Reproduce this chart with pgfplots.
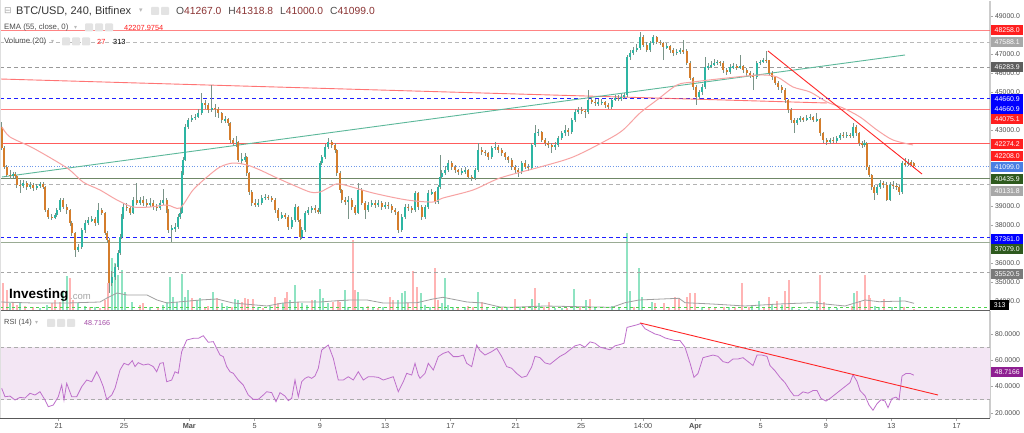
\documentclass[border=0pt]{standalone}
\usepackage{pgfplots}
\pgfplotsset{compat=1.18}
\usepackage{pgfplotstable}
\usepackage{fontspec}
\setmainfont{Liberation Sans}
\newfontfamily\djv{DejaVu Sans}

\definecolor{upbody}{HTML}{2DB5A3}
\definecolor{dnbody}{HTML}{D47D2C}
\definecolor{wickc}{HTML}{7A9488}
\definecolor{volup}{HTML}{8FE3C2}
\definecolor{voldn}{HTML}{FFB4B4}
\definecolor{lvlred}{HTML}{FF5C5C}
\definecolor{lvlblue}{HTML}{1F1FFF}
\definecolor{lvlgreen}{HTML}{6F8766}
\definecolor{emac}{HTML}{F7A3A3}
\definecolor{trgreen}{HTML}{5CB89A}
\definecolor{rsic}{HTML}{BE6FCB}
\definecolor{rsifill}{HTML}{F3E6F4}
\definecolor{axtext}{HTML}{4D4D4D}
\definecolor{valred}{HTML}{8B3333}
\definecolor{tagblue}{HTML}{0000FF}
\definecolor{taglblue}{HTML}{4A7FE3}
\definecolor{taggreen}{HTML}{2E5A1E}
\definecolor{taggray}{HTML}{A8A8A8}
\definecolor{tagdgray}{HTML}{5E5E5E}
\definecolor{tagmgray}{HTML}{7A7A7A}
\definecolor{tagred}{HTML}{FF1F1F}
\definecolor{tagpurple}{HTML}{8E1F91}

\pgfplotstableread{
x o h l c
1.7 43153 43416 41943 42048
4.0 42048 42150 40940 41048
6.7 41048 41150 40520 40627
10.0 40627 40900 40420 40574
13.3 40574 40800 40450 40679
15.0 40679 40760 40480 40574
16.7 40574 40650 39950 40100
20.0 40100 40350 39700 40048
23.3 40048 40350 39950 40206
26.7 40206 40300 39850 39995
30.0 39995 40250 39900 40100
33.3 40100 40200 39800 39943
36.7 39943 40150 39850 40048
40.0 40048 40250 39950 40153
43.3 40153 40250 39900 39995
45.0 39995 40050 38700 38785
48.3 38785 38900 38300 38416
51.7 38416 38600 38250 38364
55.0 38364 38650 38300 38521
56.7 38521 38900 38400 38785
60.0 38785 39400 38700 39311
63.3 39311 39400 38850 38943
66.7 38943 39100 38600 38785
70.0 38785 38850 37950 38101
71.7 38101 38200 37400 37574
75.0 37574 37650 36311 36679
78.3 36679 37000 36550 36837
81.7 36837 37850 36750 37732
85.0 37732 38250 37600 38101
88.3 38101 38400 38000 38258
91.7 38258 38450 38150 38300
95.0 38300 38400 37950 38101
98.3 38101 39150 38000 38785
101.7 38785 38900 38500 38627
105.0 38627 38700 37450 37574
107.3 37574 37700 37050 37206
109.3 37206 37300 34416 34943
111.7 34943 35600 34800 35259
115.0 35259 35950 35100 35785
118.3 35785 36700 35650 36521
120.0 36521 37500 36400 37364
121.7 37364 38550 37250 38416
123.3 38416 39150 38300 38943
126.7 38943 39150 38750 38900
130.0 38900 39000 38500 38627
133.3 38627 39450 38550 39311
136.7 39311 40200 39050 39153
140.0 39153 39450 39050 39311
143.3 39311 39500 39000 39153
146.7 39153 39350 38950 39048
150.0 39048 39400 38950 39153
153.3 39153 39300 38800 38943
156.7 38943 39100 38750 38890
160.0 38890 39300 38800 39153
163.3 39153 39900 39050 39311
166.7 39311 39400 38650 38785
168.3 38785 38850 37600 37732
171.7 37732 38000 37100 37800
175.0 37800 38100 37650 37890
178.3 37890 38550 37800 38416
180.0 38416 38900 38300 38627
181.7 38627 40850 38550 40732
183.3 40732 41550 40650 41416
185.0 41416 43300 41350 43153
188.3 43153 43650 43050 43521
191.7 43521 43800 43400 43627
195.0 43627 43850 43500 43679
198.3 43679 44100 43600 43890
201.7 43890 44942 43800 44416
205.0 44416 44550 44100 44311
208.3 44311 44400 43900 44048
211.7 44048 45363 43950 44153
215.0 44153 44350 43700 44100
218.3 44100 44200 43600 43890
221.7 43890 43950 43350 43521
225.0 43521 43750 43350 43560
228.3 43560 43650 43200 43364
230.0 43364 43400 42300 42469
233.3 42469 42600 42150 42311
236.7 42311 42700 42100 42350
238.3 42350 42400 41300 41416
241.7 41416 41800 41200 41450
245.0 41450 41800 41300 41574
246.7 41574 41650 40600 40732
249.3 40732 40800 39600 39732
251.7 39732 39850 39000 39153
255.0 39153 39350 38950 39100
258.3 39100 39350 38950 39153
261.7 39153 39600 39050 39416
265.0 39416 39650 39300 39469
268.3 39469 39600 39300 39416
271.7 39416 39500 39200 39311
275.0 39311 39400 38650 38785
278.3 38785 38900 38200 38364
281.7 38364 38700 38300 38521
285.0 38521 38650 38300 38416
288.3 38416 38500 37750 37890
291.7 37890 38400 37800 38258
295.0 38258 39100 38150 38943
298.3 38943 39000 38150 38258
300.0 38258 38300 37200 37364
301.7 37364 37900 37250 37732
305.0 37732 38750 37650 38627
308.3 38627 38950 38500 38785
311.7 38785 39000 38650 38850
315.0 38850 39050 38650 38785
318.3 38785 38900 38550 38679
320.0 38679 41350 38600 41258
321.7 41258 41700 41150 41574
325.0 41574 42250 41450 42100
328.3 42100 42550 42000 42364
331.7 42364 42450 42050 42206
335.0 42206 42300 41800 41943
336.7 41943 42000 40600 40732
340.0 40732 40850 39700 39837
341.7 39837 39900 39150 39311
345.0 39311 39450 39050 39206
348.3 39206 39500 38300 39311
351.7 39311 39400 38800 38943
355.0 38943 39050 38500 38627
358.3 38627 40200 38550 39837
361.7 39837 39950 39050 39153
365.0 39153 39250 38300 38785
368.3 38785 39200 38700 39048
371.7 39048 39300 38950 39153
375.0 39153 39300 38900 39048
378.3 39048 39300 38950 39153
381.7 39153 39250 38800 38943
385.0 38943 39200 38850 39048
388.3 39048 39200 38850 39000
391.7 39000 39100 38650 38785
395.0 38785 38900 38500 38679
398.3 38679 38750 37574 37732
401.7 37732 38550 37650 38416
405.0 38416 39100 38300 38943
408.3 38943 39100 38750 38900
411.7 38900 39000 38650 38785
415.0 38785 39800 38700 39679
418.3 39679 39750 38800 38943
421.7 38943 39050 38250 38416
425.0 38416 39050 38300 38943
428.3 38943 39850 38850 39679
431.7 39679 39900 39550 39732
435.0 39732 39800 39100 39206
438.3 39206 40100 39100 39995
440.0 39995 41679 39900 40522
441.7 40522 40900 40400 40732
445.0 40732 41100 40650 40890
448.3 40890 41400 40800 41258
451.7 41258 41350 40900 41048
455.0 41048 41150 40750 40890
458.3 40890 40950 40650 40785
461.7 40785 41000 40650 40820
465.0 40820 41050 40700 40890
468.3 40890 40950 40400 40522
471.7 40522 40650 40300 40469
475.0 40469 41000 40350 40890
478.3 40890 42311 40800 41943
481.7 41943 42100 41700 41837
485.0 41837 41950 41650 41785
488.3 41785 41850 41400 41574
491.7 41574 42150 41450 42048
495.0 42048 42350 41950 42100
498.3 42100 42200 41800 41943
501.7 41943 42050 41650 41785
505.0 41785 41850 41400 41574
508.3 41574 41650 41250 41416
511.7 41416 41500 40900 41048
515.0 41048 41150 40700 40890
518.3 40890 41000 40500 40785
521.7 40785 41350 40700 41258
525.0 41258 41400 40950 41048
528.3 41048 41200 40850 40995
531.7 40995 42300 40900 42206
535.0 42206 43258 42100 42837
538.3 42837 43050 42700 42890
541.7 42890 42950 42350 42469
545.0 42469 42550 42150 42311
548.3 42311 42400 42050 42206
551.7 42206 42300 41800 42100
555.0 42100 42350 41950 42206
558.3 42206 42700 42100 42574
561.7 42574 42950 42450 42837
565.0 42837 43258 42700 42995
568.3 42995 43100 42700 42890
571.7 42890 43650 42800 43521
575.0 43521 44100 43400 43942
578.3 43942 44200 43850 44048
581.7 44048 44200 43850 44000
585.0 44000 44100 43630 43942
588.3 43942 45100 43850 44574
591.7 44574 44700 44350 44469
595.0 44469 44600 44250 44416
598.3 44416 44650 44250 44450
601.7 44450 44650 44300 44469
605.0 44469 44500 44150 44311
608.3 44311 44400 44100 44206
611.7 44206 44700 44100 44574
615.0 44574 44850 44500 44679
618.3 44679 44850 44500 44650
621.2 44650 44900 44500 44732
624.0 44732 44950 44650 44837
627.3 44837 46950 44750 46837
630.0 46837 47200 46700 47048
633.3 47048 47350 46950 47206
636.7 47206 47500 47100 47311
640.0 47311 48153 47200 47890
643.3 47890 48000 47350 47469
646.7 47469 47600 47100 47206
650.0 47206 47700 47100 47574
653.3 47574 48000 47450 47890
656.7 47890 47950 47500 47627
660.0 47627 47750 47450 47574
663.3 47574 47650 46679 47363
666.7 47363 47550 47250 47400
670.0 47400 47450 47050 47206
673.3 47206 47300 46900 47048
676.7 47048 47250 46950 47100
680.0 47100 47300 47000 47206
683.3 47206 47732 47000 47150
686.7 47150 47250 46400 46521
690.0 46521 46600 45600 45732
693.3 45732 45800 45100 45258
696.0 45258 45350 44311 44732
699.0 44732 45100 44600 44995
702.0 44995 45400 44850 45258
705.0 45258 46837 45150 46311
708.0 46311 46500 46150 46350
711.0 46350 46600 46250 46416
714.0 46416 46750 46350 46521
717.0 46521 46700 46400 46574
720.0 46574 46650 46350 46521
723.3 46521 46600 46000 46153
726.7 46153 46250 45900 46048
730.0 46048 46450 45950 46311
733.3 46311 46500 46200 46350
736.7 46350 46450 46150 46311
740.0 46311 46942 46200 46350
743.3 46350 46400 46000 46153
746.7 46153 46250 45850 45995
750.0 45995 46100 45750 45890
753.3 45890 46000 45100 45785
756.7 45785 46650 45700 46521
760.0 46521 46700 46400 46574
763.3 46574 46800 46500 46679
766.0 46679 47153 46500 46650
769.0 46650 46700 45850 45995
772.0 45995 46100 45650 45785
775.0 45785 45850 45350 45469
778.3 45469 45550 45100 45258
781.7 45258 45350 44950 45100
785.0 45100 45200 44416 44574
788.0 44574 44650 43900 44048
791.0 44048 44150 43364 43521
794.0 43521 43650 42850 43364
797.0 43364 43650 43250 43521
800.0 43521 43750 43400 43627
803.3 43627 43700 43400 43521
806.7 43521 43800 43450 43627
810.0 43627 43850 43500 43679
813.3 43679 43750 43400 43521
816.7 43521 43890 43400 43560
820.0 43560 43600 42700 42837
823.3 42837 42900 42300 42469
826.7 42469 42550 42200 42364
830.0 42364 42600 42250 42469
833.3 42469 42650 42300 42430
836.7 42430 42700 42300 42574
840.0 42574 42850 42450 42732
843.3 42732 42900 42550 42700
846.7 42700 42900 42600 42732
850.0 42732 42850 42550 42700
853.3 42700 43364 42600 43153
856.3 43153 43250 42700 42837
859.3 42837 42900 42150 42311
862.0 42311 42400 42050 42206
864.5 42206 42450 42100 42311
866.8 42311 42350 40900 41048
869.2 41048 41150 40500 40627
871.6 40627 40700 39850 39995
874.0 39995 40100 39311 39679
877.0 39679 40100 39550 39995
880.0 39995 40350 39900 40206
883.3 40206 40300 39950 40100
886.7 40100 40250 39258 39311
890.0 39311 40250 39250 40100
893.3 40100 40300 39900 40050
896.5 40050 40200 39850 39995
899.3 39995 40100 39600 39732
902.2 39732 41350 39650 41258
905.2 41258 41521 41100 41200
908.2 41200 41450 41100 41300
911.0 41300 41400 41150 41267
913.8 41267 41319 41000 41099
}\candles

\pgfplotstableread{
x v
10 670
20 670
40 170
46.7 500
63.3 1830
66.7 3400
78.3 670
85 400
95 330
111.7 5170
115 4670
118.3 3500
121.7 4000
125 1830
131.7 830
150 270
163.3 500
166.7 830
170 3330
173.3 1330
176.7 830
181.7 3600
185 1330
188.3 2000
196.7 1000
200 1170
213.3 1830
221.7 670
226.7 400
235 1100
238.3 1000
258.3 270
270 400
283.3 730
290 1000
295 2500
301.7 670
306.7 500
315 1000
320 2070
323.3 1170
328.3 670
345 2000
348.3 330
358.3 1830
363.3 330
373.3 270
383.3 270
398.3 1000
401.7 1670
405 1930
420.7 1670
425 500
430 330
441.7 670
445 3170
448.3 500
453.3 330
465 270
478.3 1830
486.7 270
496.7 270
506.7 270
520.3 330
532 1070
538.7 670
555.3 170
562 170
573.7 2070
586 1000
595.3 170
612 400
618.7 270
627 7670
630.3 1900
638.7 4170
642 1270
652 830
702 270
728.7 270
752 500
758.7 870
772 500
782 500
792 270
798.7 70
808.7 70
817 900
828.7 270
837 170
853.7 1730
875.3 400
878.7 270
892 270
900.3 1270
}\volupt

\pgfplotstableread{
x v
3.3 2670
6.7 2000
13.3 830
16.7 500
25 400
33.3 330
51.7 670
55 1000
60 830
70 3170
73.3 1000
90 270
100 170
105 1000
108.3 2670
140 500
143.3 670
158.3 170
191.7 1170
205 330
208.3 400
216.7 1170
231.7 270
241.7 830
245 1170
248.3 1070
253.3 1070
263.3 170
275 1270
278.3 670
285 1170
286.7 1830
298.3 830
311.7 1000
333.3 830
338.3 1000
340 830
352.7 7000
355 2000
368.3 400
378.3 170
390 1330
393.3 1000
408.3 670
413.3 3900
416.7 2330
435 4170
438.3 1000
458.3 270
468.3 400
473.3 270
481.7 830
501.7 330
515.3 1070
525.3 270
535.3 2170
543.7 330
548.7 770
567 170
580.3 270
590.3 1100
633.7 270
655.3 670
663.7 670
668.7 270
675.3 1270
678.7 1170
687 1330
690.3 1730
695.3 1670
708.7 170
715.3 270
723.7 270
735.3 270
742 2670
748.7 270
763.7 330
768.7 1270
777 930
785.3 1930
788.7 3000
820.3 3500
823.7 830
852 400
857 1900
860.3 930
865.3 3500
868.7 1500
870.3 1170
883.7 1100
903.7 330
913.7 70
}\voldnt

\pgfplotstableread{
x r
1.7 38.7
5 32.3
10 32.8
15 29.8
20 31.8
25 31.3
30 34.9
35 33.6
40 36.1
45 29.8
48.3 24.7
53.3 26.0
58.3 32.3
61.7 41.2
64 29.8
66.7 42.5
71.7 32.3
76.7 32.3
81.7 39.9
86.7 45.0
91.7 43.7
96.7 51.3
100 46.3
103.3 39.9
106.7 30.3
111.7 33.6
115 38.7
120 52.6
124 57.7
128.3 56.4
132.3 59.7
135 55.2
138.3 58.2
143.3 56.4
148.3 57.2
153.3 55.2
156.7 51.3
160 57.7
163.3 58.2
166.7 43.7
171.7 45.0
175 51.3
178.3 50.1
181.7 66.6
186.7 75.4
193.3 76.7
198.3 76.7
203.3 78.7
208.3 73.7
213.3 74.2
216.7 69.1
220 64.0
223.3 62.8
226.7 55.2
230 51.3
233.3 50.1
238.3 45.0
243.3 41.2
248.3 33.6
253.3 30.3
258.3 30.3
263.3 33.6
266.7 36.1
271.7 35.4
276 28.5
280 35.4
285 32.8
288.3 29.3
291.7 31.1
295 45.0
298.3 32.3
301.7 43.7
305 46.3
308.3 47.5
311.7 46.3
315 48.1
318.3 53.9
321.7 67.8
328.3 71.6
333.3 61.5
338.3 45.0
343.3 45.0
348.3 47.5
353.3 45.0
358.3 51.3
363.3 45.0
368.3 47.5
373.3 47.5
378.3 47.0
383.3 45.0
388.3 46.3
393.3 47.5
398.3 36.1
403.3 43.7
406.7 50.1
411.7 48.8
415 57.7
418.3 48.8
420 46.3
425 50.1
428.3 57.7
433.3 52.6
438.3 62.8
443.3 65.3
448.3 66.6
453.3 62.8
458.3 62.8
463.3 64.0
466.7 57.7
471.7 55.2
476.7 71.6
480 67.3
485 64.0
491.7 66.6
496.7 69.1
501.7 62.8
506.7 55.2
511.7 53.9
516.7 50
521.7 47
526.7 48
531.7 55
535 63
540 62
545 58
550 57
555 60
560 63
565 65
570 68
575 71
580 72
585 70
590 74
595 73
600 70
605 69
610 68
615 71
620 72
624 73
627 85
632 86
637 87
641 88
645 84
650 82
655 80
660 79
665 77
670 76
675 75
680 75
685 70
690 58
694 47
698 50
703 62
708 63
713 64
718 63
723 59
728 58
733 61
738 61
743 62
748 59
753 56
757 64
762 64
767 63
770 56
775 52
780 47
785 43
790 37
794 33
798 33
803 36
808 35
813 37
817 37
821 31
826 29
830 31
835 34
840 37
845 40
850 43
853 49
857 44
860 37
865 33
869 26
873 22
877 27
881 30
885 29
888 24
892 31
896 32
899 30
902 48
906 50
910 50
913.8 48.7
}\rsit

\pgfplotstableread{
x p
2 43153
10 42627
33 42048
67 40995
83 40258
100 39837
117 39311
133 38943
150 38943
167 39048
180 38890
193 39837
207 40521
220 41047
233 41258
247 41153
260 40890
277 40469
293 40100
310 39732
320 39732
330 39995
340 40153
373 39679
407 39311
433 39206
443 39416
473 39837
500 40469
540 41047
573 41573
607 42469
623 42995
640 43890
657 44574
677 45363
693 45521
727 45732
760 45890
777 45785
793 45258
810 44995
827 44469
843 44153
860 43679
877 42995
893 42469
913 42206
}\ema

\pgfplotstableread{
x v
0 800
33 700
67 700
100 800
107 1200
117 1700
127 1500
147 1500
157 1000
167 700
200 1000
217 1100
233 700
267 400
283 700
300 800
320 800
333 900
350 1000
367 1000
383 700
400 700
417 730
433 1100
443 1270
467 800
483 700
500 300
512 270
545 400
579 330
612 270
625 730
639 1000
662 1100
679 1170
685 730
712 600
745 400
779 600
812 730
845 400
865 1000
879 830
905 900
914 670
}\volma

\newcommand{\tagf}{\fontsize{6.9}{7}\selectfont}
\newcommand{\pricetag}[3]{\node[fill=#2, text=white, font=\tagf, inner sep=0pt, minimum width=32pt, minimum height=10pt, anchor=west] at (991,#1) {#3};}
\newcommand{\icon}[2]{\fill[gray!22, rounded corners=0.8pt] (#1,#2) rectangle ++(8,8);}
\pgfplotsset{barsonly/.style={only marks, mark=*, mark size=0pt, mark options={draw opacity=0, fill opacity=0}, forget plot}}

\begin{document}
\begin{tikzpicture}
\path[use as bounding box, fill=white] (0pt,0pt) rectangle (1024pt,433pt);

% ---------- volume (overlay on the price pane)
\begin{axis}[at={(0pt,123pt)}, anchor=south west, scale only axis,
  width=990pt, height=309pt, xmin=0, xmax=990, ymin=0, ymax=30900,
  axis lines=none, clip=true]
  \addplot[ycomb, draw=voldn, line width=2pt, mark=none] table[x=x,y=v] {\voldnt};
  \addplot[ycomb, draw=volup, line width=2pt, mark=none] table[x=x,y=v] {\volupt};
  \addplot[draw=gray!75, line width=0.8pt, mark=none] table[x=x,y=v] {\volma};
  \addplot[draw=green!75!black!70, dashed, line width=0.6pt, mark=none] coordinates {(0,313) (990,313)};
\end{axis}

% ---------- price pane
\begin{axis}[at={(0pt,123pt)}, anchor=south west, scale only axis,
  width=990pt, height=309pt, xmin=0, xmax=990, ymin=33522, ymax=49784,
  axis x line=none, axis y line*=right,
  y axis line style={draw=gray!40, line width=1.4pt},
  ytick={34000,35000,36000,38000,39000,43000,45000,46000,47000,49000},
  yticklabels={34000.0,35000.0,36000.0,38000.0,39000.0,43000.0,45000.0,46000.0,47000.0,49000.0},
  tick align=outside, major tick length=3pt,
  ytick style={draw=gray!70, line width=0.5pt},
  yticklabel style={font=\fontsize{6.9}{7}\selectfont, text=axtext, xshift=-1.5pt},
  clip=true]
  % horizontal levels
  \addplot[lvlred, line width=0.9pt, opacity=0.75] coordinates {(0,48258) (990,48258)};
  \addplot[gray!55, dash pattern=on 4pt off 3pt, line width=0.7pt] coordinates {(0,47588.1) (990,47588.1)};
  \addplot[gray!80, dash pattern=on 4pt off 3pt, line width=0.7pt] coordinates {(0,46283.9) (990,46283.9)};
  \addplot[lvlblue, dash pattern=on 4pt off 3pt, line width=0.9pt] coordinates {(0,44660.9) (990,44660.9)};
  \addplot[lvlred, line width=0.9pt, opacity=0.8] coordinates {(0,44075.1) (990,44075.1)};
  \addplot[lvlred, line width=0.9pt] coordinates {(0,42274.2) (990,42274.2)};
  \addplot[taglblue!80, dotted, line width=0.7pt] coordinates {(0,41099) (990,41099)};
  \addplot[lvlgreen, line width=0.9pt] coordinates {(0,40435.9) (990,40435.9)};
  \addplot[gray!60, dash pattern=on 4pt off 3pt, line width=0.7pt] coordinates {(0,40131.8) (990,40131.8)};
  \addplot[lvlblue, dash pattern=on 4pt off 3pt, line width=0.9pt] coordinates {(0,37361) (990,37361)};
  \addplot[lvlgreen!70, line width=1.2pt] coordinates {(0,37079) (990,37079)};
  \addplot[gray!70, dash pattern=on 4pt off 3pt, line width=0.7pt] coordinates {(0,35520.5) (990,35520.5)};
  % long trend lines
  \addplot[lvlred, line width=0.9pt, opacity=0.85] coordinates {(0,45679) (827,44416)};
  \addplot[trgreen, line width=0.9pt] coordinates {(2,40522) (905,46942)};
  % candles: wicks
  \addplot[barsonly,
    error bars/.cd, y dir=both, y explicit, error mark=none,
    error bar style={draw=wickc, line width=0.7pt}]
    table[x=x, y=o, y error plus expr=\thisrow{h}-\thisrow{o}, y error minus expr=\thisrow{o}-\thisrow{l}] {\candles};
  % up bodies
  \addplot[barsonly,
    error bars/.cd, y dir=both, y explicit, error mark=none,
    error bar style={draw=upbody, line width=2.1pt}]
    table[x=x, y expr={\thisrow{c}>=\thisrow{o} ? 0.5*(\thisrow{o}+\thisrow{c}) : nan},
          y error expr={0.5*abs(\thisrow{c}-\thisrow{o})+15}] {\candles};
  % down bodies
  \addplot[barsonly,
    error bars/.cd, y dir=both, y explicit, error mark=none,
    error bar style={draw=dnbody, line width=2.1pt}]
    table[x=x, y expr={\thisrow{c}<\thisrow{o} ? 0.5*(\thisrow{o}+\thisrow{c}) : nan},
          y error expr={0.5*abs(\thisrow{c}-\thisrow{o})+15}] {\candles};
  % EMA 55
  \addplot[emac, line width=1pt, smooth] table[x=x,y=p] {\ema};
  % falling trend line
  \addplot[red!85, line width=0.9pt] coordinates {(768,47153) (922,40679)};
\end{axis}

% ---------- RSI pane
\begin{axis}[at={(0pt,15pt)}, anchor=south west, scale only axis,
  width=990pt, height=107pt, xmin=0, xmax=990, ymin=16.12, ymax=97.49,
  axis x line*=bottom, axis y line*=right,
  x axis line style={draw=gray!70!black, line width=0.9pt},
  y axis line style={draw=gray!40, line width=1.4pt},
  xtick={58.7,124,189.3,254.6,319.9,385.2,450.5,515.8,581.1,643,695.3,760.7,826,891.3,956.6},
  xticklabels={21,25,\textbf{Mar},5,9,13,17,21,25,14:00,\textbf{Apr},5,9,13,17},
  ytick={20,40,60,80}, yticklabels={20.0000,40.0000,60.0000,80.0000},
  tick align=outside, major tick length=3pt,
  tick style={draw=gray!70, line width=0.5pt},
  xticklabel style={font=\fontsize{7.3}{8}\selectfont, text=axtext, yshift=1pt},
  yticklabel style={font=\fontsize{6.9}{7}\selectfont, text=axtext, xshift=-1.5pt},
  clip=true]
  \addplot[draw=none, fill=rsifill] coordinates {(0,30) (990,30) (990,70) (0,70)} -- cycle;
  \addplot[gray!65, dash pattern=on 4pt off 3pt, line width=0.7pt] coordinates {(0,70) (990,70)};
  \addplot[gray!65, dash pattern=on 4pt off 3pt, line width=0.7pt] coordinates {(0,30) (990,30)};
  \addplot[rsic, line width=0.8pt] table[x=x,y=r] {\rsit};
  \addplot[red!85, line width=0.9pt] coordinates {(640,88.4) (938,33.6)};
\end{axis}

\begin{scope}[x=1pt,y=1pt]
% pane separators and frame
\draw[gray!75!black, line width=1.2pt] (0,122.8) -- (990,122.8);
\draw[gray!25, line width=0.8pt] (0.4,15) -- (0.4,433);
% header
\node[anchor=west, inner sep=0pt, text=gray!70] at (4,422) {\djv\fontsize{9}{9}\selectfont ⊟};
\node[anchor=west, inner sep=0pt, text=black!80] at (16,422) {\fontsize{11}{11}\selectfont BTC/USD, 240, Bitfinex};
\node[anchor=west, inner sep=0pt, text=gray!55] at (139,422) {\djv\fontsize{7}{7}\selectfont ▾};
\icon{151}{418}\icon{161}{418}
\node[anchor=west, inner sep=0pt] at (176,422) {\fontsize{10.3}{10.3}\selectfont
  {\color{axtext}O}{\color{valred}41267.0}\hspace{7pt}{\color{axtext}H}{\color{valred}41318.8}\hspace{7pt}{\color{axtext}L}{\color{valred}41000.0}\hspace{7pt}{\color{axtext}C}{\color{valred}41099.0}};
\node[anchor=west, inner sep=0pt, text=axtext] at (4,405.5) {\fontsize{7.8}{8}\selectfont EMA (55, close, 0)};
\node[anchor=west, inner sep=0pt, text=gray!55] at (74,405.5) {\djv\fontsize{6}{6}\selectfont ▾};
\icon{85}{401.5}\icon{95}{401.5}\icon{105}{401.5}
\node[anchor=west, inner sep=0pt, text=tagred] at (124,405.5) {\fontsize{7.4}{8}\selectfont 42207.9754};
\node[anchor=west, inner sep=0pt, text=axtext] at (4,391.5) {\fontsize{7.8}{8}\selectfont Volume (20)};
\node[anchor=west, inner sep=0pt, text=gray!55] at (51,391.5) {\djv\fontsize{6}{6}\selectfont ▾};
\icon{62}{387.5}\icon{72}{387.5}\icon{82}{387.5}
\node[anchor=west, inner sep=0pt, text=tagred] at (97,391.5) {\fontsize{7.4}{8}\selectfont 27};
\node[anchor=west, inner sep=0pt, text=black] at (113,391.5) {\fontsize{7.4}{8}\selectfont 313};
% Investing.com logo
\node[anchor=west, inner sep=0pt] at (9,138) {\fontsize{13.5}{14}\selectfont\bfseries Investing};
\node[anchor=west, inner sep=0pt, text=gray!70] at (70,136) {\fontsize{9.5}{10}\selectfont .com};
% RSI header
\node[anchor=west, inner sep=0pt, text=axtext] at (4,110) {\fontsize{7.4}{8}\selectfont RSI (14)};
\node[anchor=west, inner sep=0pt, text=gray!55] at (35,110) {\djv\fontsize{6}{6}\selectfont ▾};
\icon{47}{106}\icon{57}{106}\icon{67}{106}
\node[anchor=west, inner sep=0pt, text=tagpurple!80] at (84,110) {\fontsize{7.2}{8}\selectfont 48.7166};
% price tags
\pricetag{403}{tagred}{48258.0}
\pricetag{391.3}{taggray}{47588.1}
\pricetag{366}{tagdgray}{46283.9}
\pricetag{334}{tagblue}{44660.9}
\pricetag{324}{tagblue}{44660.9}
\pricetag{314}{tagred}{44075.1}
\pricetag{289}{tagred}{42274.2}
\pricetag{277}{tagred}{42208.0}
\pricetag{266}{taglblue}{41099.0}
\pricetag{254}{taggreen}{40435.9}
\pricetag{242.3}{taggray}{40131.8}
\pricetag{194}{tagblue}{37361.0}
\pricetag{184}{taggreen}{37079.0}
\pricetag{159}{tagmgray}{35520.5}
\node[fill=black, text=white, font=\tagf, inner sep=0pt, minimum width=19pt, minimum height=10pt, anchor=west] at (990,128) {313};
\pricetag{61}{tagpurple}{48.7166}
\end{scope}
\end{tikzpicture}
\end{document}
